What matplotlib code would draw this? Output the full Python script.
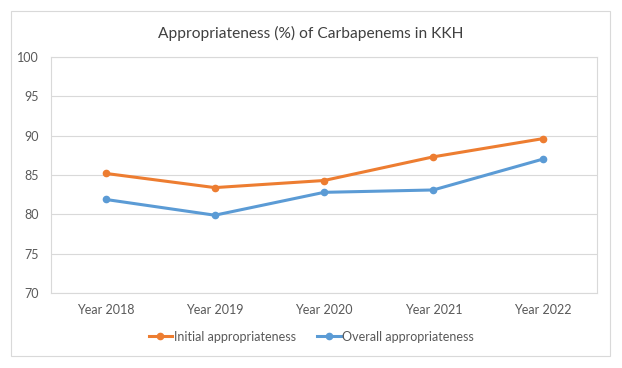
import matplotlib.pyplot as plt
from matplotlib.patches import Rectangle

years = ['Year 2018', 'Year 2019', 'Year 2020', 'Year 2021', 'Year 2022']
initial = [85.2, 83.4, 84.3, 87.3, 89.6]
overall = [81.9, 79.9, 82.8, 83.1, 87.0]

plt.rcParams['font.family'] = ['Lato', 'DejaVu Sans']

fig = plt.figure(figsize=(6.22, 3.68), dpi=100)
ax = fig.add_axes([0.082, 0.203, 0.878, 0.643])

x = range(len(years))
ax.plot(x, initial, color='#ED7D31', lw=2.2, marker='o', ms=4.5, label='Initial appropriateness')
ax.plot(x, overall, color='#5B9BD5', lw=2.2, marker='o', ms=4.5, label='Overall appropriateness')

ax.set_xlim(-0.5, len(years) - 0.5)
ax.set_ylim(70, 100)
ax.set_yticks(range(70, 101, 5))
ax.set_xticks(list(x))
ax.set_xticklabels(years)
ax.grid(axis='y', color='#d9d9d9', lw=0.8)
ax.set_axisbelow(True)
for s in ax.spines.values():
    s.set_color('#d9d9d9')
    s.set_linewidth(0.8)
ax.tick_params(length=0, labelsize=9, colors='#595959', pad=8)
ax.tick_params(axis='y', pad=9)

fig.text(0.5, 0.908, 'Appropriateness (%) of Carbapenems in KKH', ha='center', va='center',
         fontsize=11.2, color='#404040')

fig.legend(loc='center', bbox_to_anchor=(0.5, 0.085), ncol=2, frameon=False, fontsize=9,
           labelcolor='#595959', handlelength=1.9, handletextpad=0.1, columnspacing=1.7)

fig.patches.append(Rectangle((0.018, 0.033), 0.962, 0.937, transform=fig.transFigure,
                             fill=False, ec='#d9d9d9', lw=0.8))

fig.savefig('out.png', dpi=100)
